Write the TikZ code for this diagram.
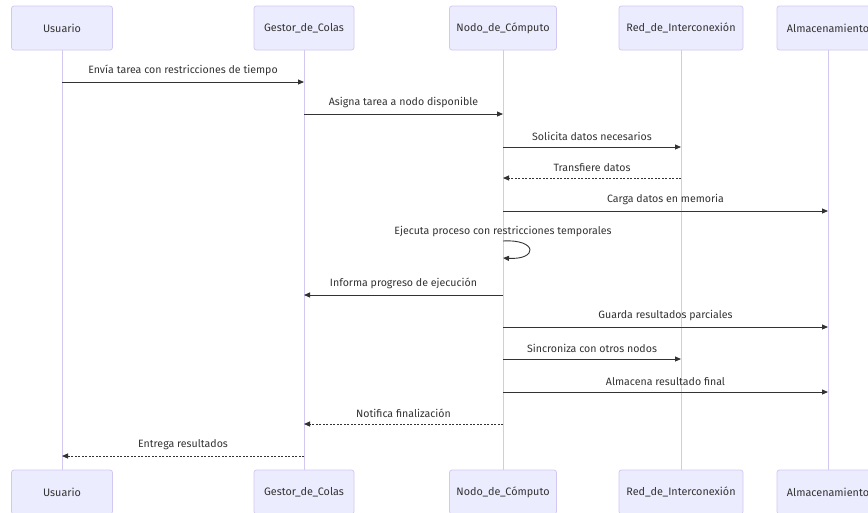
\documentclass[tikz,border=0pt]{standalone}
\usepackage{fontspec}
\setmainfont{Fira Sans}
\usetikzlibrary{arrows.meta}
\definecolor{actfill}{HTML}{ECECFF}
\definecolor{actline}{HTML}{D3C8F2}
\definecolor{txt}{HTML}{333333}
\tikzset{
  actor/.style={draw=actline, fill=actfill, rounded corners=2.5pt, line width=0.8pt,
    minimum height=44pt, inner sep=0pt, text=txt, font=\fontsize{10.8}{12}\selectfont},
  life/.style={draw=actline, line width=0.8pt},
  msg/.style={draw=txt, line width=0.9pt, -{Triangle[length=6pt,width=5pt]}},
  rmsg/.style={msg, dash pattern=on 2pt off 1.5pt},
  lbl/.style={text=txt, font=\fontsize{10.6}{12}\selectfont, inner sep=0pt}
}
\begin{document}
\begin{tikzpicture}[x=1pt,y=-1pt]
\useasboundingbox (0,0) rectangle (868,512);
\fill[white] (0,0) rectangle (868,512);
% top actors
\node[actor, minimum width=101pt] (U)  at (62,28) {Usuario};
\node[actor, minimum width=100pt] (G)  at (304,28) {Gestor\_de\_Colas};
\node[actor, minimum width=107pt] (N)  at (503,28) {Nodo\_de\_Cómputo};
\node[actor, minimum width=124pt] (R)  at (681,28) {Red\_de\_Interconexión};
\node[actor, minimum width=102pt] (A)  at (828,28) {Almacenamiento};
% bottom actors
\node[actor, minimum width=101pt] (Ub) at (62,492) {Usuario};
\node[actor, minimum width=100pt] (Gb) at (304,492) {Gestor\_de\_Colas};
\node[actor, minimum width=107pt] (Nb) at (503,492) {Nodo\_de\_Cómputo};
\node[actor, minimum width=124pt] (Rb) at (681,492) {Red\_de\_Interconexión};
\node[actor, minimum width=102pt] (Ab) at (828,492) {Almacenamiento};
% lifelines
\draw[life] (U) -- (Ub);
\draw[life] (G) -- (Gb);
\draw[life] (N) -- (Nb);
\draw[life] (R) -- (Rb);
\draw[life] (A) -- (Ab);
% messages
\draw[msg] (U.south |- 0,82) -- node[lbl, above=6pt] {Envía tarea con restricciones de tiempo} (G.south |- 0,82);
\draw[msg] (G.south |- 0,114) -- node[lbl, above=6pt] {Asigna tarea a nodo disponible} (N.south |- 0,114);
\draw[msg] (N.south |- 0,147) -- node[lbl, above=6pt] {Solicita datos necesarios} (R.south |- 0,147);
\draw[rmsg] (R.south |- 0,178) -- node[lbl, above=6pt] {Transfiere datos} (N.south |- 0,178);
\draw[msg] (N.south |- 0,211) -- node[lbl, above=6pt] {Carga datos en memoria} (A.south |- 0,211);
\node[lbl] (selfl) at (503,231) {Ejecuta proceso con restricciones temporales};
\draw[msg] (N.south |- 0,241) .. controls (538,239) and (538,260) .. (N.south |- 0,258);
\draw[msg] (N.south |- 0,295) -- node[lbl, above=6pt] {Informa progreso de ejecución} (G.south |- 0,295);
\draw[msg] (N.south |- 0,327) -- node[lbl, above=6pt] {Guarda resultados parciales} (A.south |- 0,327);
\draw[msg] (N.south |- 0,359) -- node[lbl, above=6pt] {Sincroniza con otros nodos} (R.south |- 0,359);
\draw[msg] (N.south |- 0,392) -- node[lbl, above=6pt] {Almacena resultado final} (A.south |- 0,392);
\draw[rmsg] (N.south |- 0,424) -- node[lbl, above=6pt] {Notifica finalización} (G.south |- 0,424);
\draw[rmsg] (G.south |- 0,456) -- node[lbl, above=6pt] {Entrega resultados} (U.south |- 0,456);
\end{tikzpicture}
\end{document}
